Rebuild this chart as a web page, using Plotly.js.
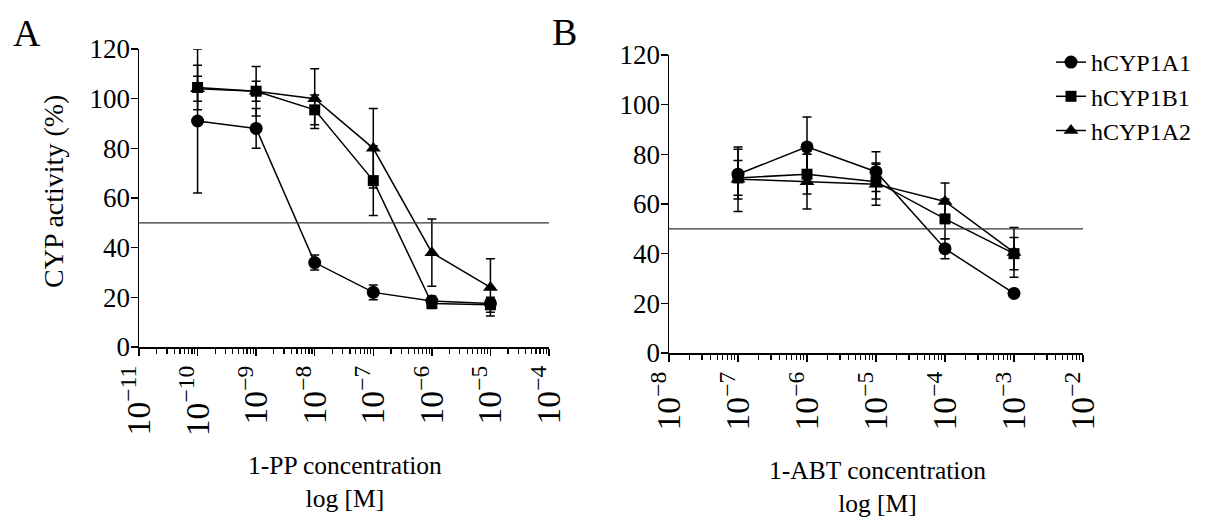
<!DOCTYPE html>
<html>
<head>
<meta charset="utf-8">
<script src="https://cdn.plot.ly/plotly-3.0.1.min.js"></script>
<style>html,body{margin:0;padding:0;background:#fff;}#chart{width:1211px;height:518px;}</style>
</head>
<body>
<div id="chart"></div>
<script>
// ---- Data ----
const seriesNames = ["hCYP1A1", "hCYP1B1", "hCYP1A2"];
const seriesSymbols = ["circle", "square", "triangle-up"];

// Panel A: 1-PP
const concA = [1e-10, 1e-9, 1e-8, 1e-7, 1e-6, 1e-5];
const A_1A1 = [91, 88, 34, 22, 18.5, 17.5];
const A_1A1_err = [29, 8, 3, 3, 2, 2];
const A_1B1 = [104.5, 103, 95.5, 67, 17.5, 17];
const A_1B1_err = [9, 10, 6, 14, 2, 3];
const A_1A2 = [104, 103, 100, 80, 38, 24];
const A_1A2_err = [5, 4, 12, 16, 13.5, 11.5];

// Panel B: 1-ABT
const concB = [1e-7, 1e-6, 1e-5, 1e-4, 1e-3];
const B_1A1 = [72, 83, 73, 42, 24];
const B_1A1_err = [10, 12, 8, 4, 0];
const B_1B1 = [70.5, 72, 69, 54, 40];
const B_1B1_err = [7, 8, 7, 8, 6.5];
const B_1A2 = [70, 69, 68, 61, 40.5];
const B_1A2_err = [13, 11, 8.5, 7.5, 10];

const halfLine = 50;
const yTicks = [0, 20, 40, 60, 80, 100, 120];

// ---- Build traces ----
const FONT = "Liberation Serif";
function mk(x, y, err, i, xa, ya, showLeg) {
  return {
    x: x, y: y, type: "scatter", mode: "lines+markers",
    name: seriesNames[i], xaxis: xa, yaxis: ya, showlegend: showLeg,
    line: {color: "black", width: 1.5},
    marker: {symbol: seriesSymbols[i], color: "black", size: i === 1 ? 11 : 13},
    error_y: {type: "data", array: err, visible: true, color: "black", thickness: 1.5, width: 4.5},
    cliponaxis: false
  };
}
const data = [
  mk(concA, A_1A1, A_1A1_err, 0, "x", "y", true),
  mk(concA, A_1B1, A_1B1_err, 1, "x", "y", true),
  mk(concA, A_1A2, A_1A2_err, 2, "x", "y", true),
  mk(concB, B_1A1, B_1A1_err, 0, "x2", "y2", false),
  mk(concB, B_1B1, B_1B1_err, 1, "x2", "y2", false),
  mk(concB, B_1A2, B_1A2_err, 2, "x2", "y2", false)
];

function xAxis(range, domain, anchor) {
  return {
    type: "log", range: range, domain: domain, anchor: anchor,
    dtick: 1, exponentformat: "power", tickangle: -90,
    showline: true, linecolor: "black", linewidth: 1.5,
    ticks: "outside", ticklen: 7, tickwidth: 1.5, tickcolor: "black",
    minor: {ticks: "outside", ticklen: 5, tickwidth: 1.2, tickcolor: "black", dtick: "D1", showgrid: false},
    showgrid: false, zeroline: false, ticklabelstandoff: -2,
    tickfont: {family: FONT, size: 27, color: "black"}
  };
}
function yAxis(domain, anchor) {
  return {
    range: [0, 120], domain: domain, anchor: anchor,
    tickvals: yTicks,
    showline: true, linecolor: "black", linewidth: 1.5,
    ticks: "outside", ticklen: 7, tickwidth: 1.5, tickcolor: "black",
    showgrid: false, zeroline: false, ticklabelstandoff: -5,
    tickfont: {family: FONT, size: 27, color: "black"}
  };
}

const W = 1211, H = 518;
const layout = {
  width: W, height: H,
  margin: {l: 0, r: 0, t: 0, b: 0},
  paper_bgcolor: "white", plot_bgcolor: "white",
  font: {family: FONT, color: "black"},
  xaxis: xAxis([-11, -4], [139 / W, 549 / W], "y"),
  yaxis: yAxis([1 - 347 / H, 1 - 49 / H], "x"),
  xaxis2: xAxis([-8, -2], [669 / W, 1083 / W], "y2"),
  yaxis2: yAxis([1 - 353 / H, 1 - 55 / H], "x2"),
  showlegend: true,
  legend: {
    x: 1051 / W, y: 1 - 40 / H, xanchor: "left", yanchor: "top",
    font: {family: FONT, size: 24, color: "black"},
    bgcolor: "rgba(0,0,0,0)", borderwidth: 0, tracegroupgap: 0
  },
  shapes: [
    {type: "line", xref: "x domain", yref: "y", x0: 0, x1: 1, y0: halfLine, y1: halfLine,
     line: {color: "#333", width: 1.3}},
    {type: "line", xref: "x2 domain", yref: "y2", x0: 0, x1: 1, y0: halfLine, y1: halfLine,
     line: {color: "#333", width: 1.3}}
  ],
  annotations: [
    {text: "A", xref: "paper", yref: "paper", x: 27 / W, y: 1 - 33 / H, showarrow: false,
     xanchor: "center", yanchor: "middle", font: {family: FONT, size: 38}},
    {text: "B", xref: "paper", yref: "paper", x: 564 / W, y: 1 - 32 / H, showarrow: false,
     xanchor: "center", yanchor: "middle", font: {family: FONT, size: 38}},
    {text: "CYP activity (%)", xref: "paper", yref: "paper", x: 53 / W, y: 1 - 191 / H,
     textangle: -90, showarrow: false, xanchor: "center", yanchor: "middle",
     font: {family: FONT, size: 28}},
    {text: "1-PP concentration<br>log [M]", xref: "paper", yref: "paper", x: 345 / W, y: 1 - 482 / H,
     showarrow: false, xanchor: "center", yanchor: "middle", font: {family: FONT, size: 25.5}},
    {text: "1-ABT concentration<br>log [M]", xref: "paper", yref: "paper", x: 877 / W, y: 1 - 487 / H,
     showarrow: false, xanchor: "center", yanchor: "middle", font: {family: FONT, size: 25.5}}
  ]
};

Plotly.newPlot("chart", data, layout, {displayModeBar: false, staticPlot: true});
</script>
</body>
</html>
